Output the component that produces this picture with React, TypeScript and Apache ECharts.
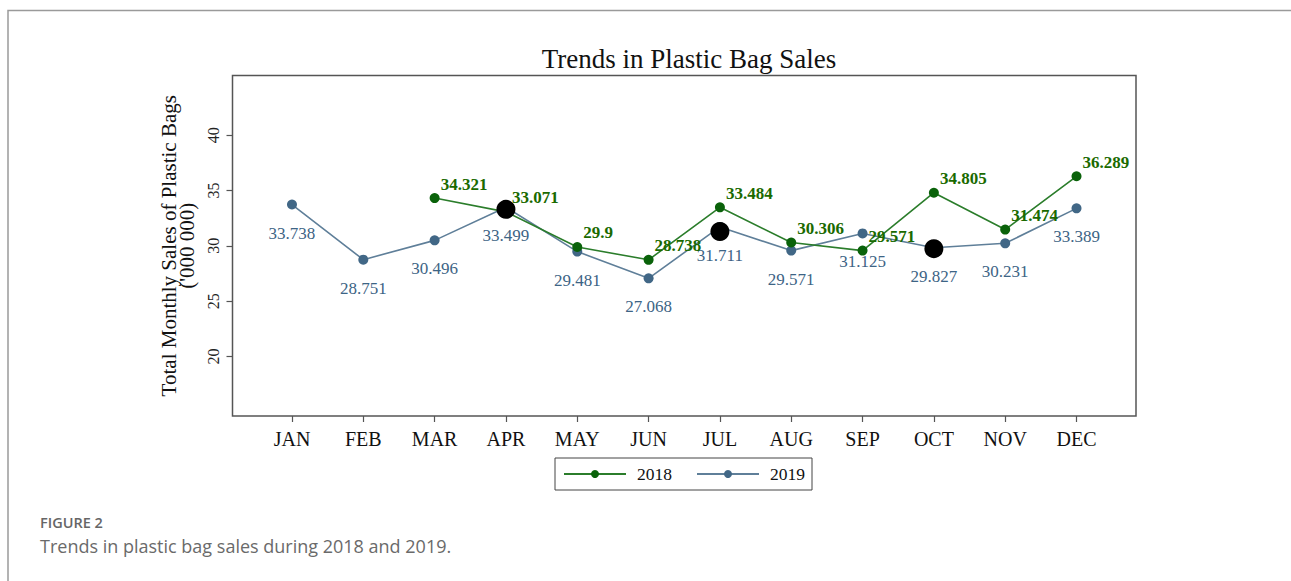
import React, { useEffect, useRef } from "react";
import * as echarts from "echarts";

const months = ["JAN", "FEB", "MAR", "APR", "MAY", "JUN", "JUL", "AUG", "SEP", "OCT", "NOV", "DEC"];
const sales2018: (number | null)[] = [null, null, 34.321, 33.071, 29.9, 28.738, 33.484, 30.306, 29.571, 34.805, 31.474, 36.289];
const sales2019: number[] = [33.738, 28.751, 30.496, 33.499, 29.481, 27.068, 31.711, 29.571, 31.125, 29.827, 30.231, 33.389];
const highlightMonths = [3, 6, 9];
const highlightValues = [33.3, 31.3, 29.75];
const yTicks = [20, 25, 30, 35, 40];

const SERIF = "'Liberation Serif', 'Times New Roman', serif";

export default function App() {
  const ref = useRef<HTMLDivElement>(null);
  useEffect(() => {
    if (!ref.current) return;
    const chart = echarts.init(ref.current, null, { renderer: "svg" });
    const idx = months.map((_, i) => i);
    const d2018 = sales2018
      .map((v, i) => (v === null ? null : [i, v]))
      .filter((p) => p !== null);
    const d2019 = sales2019.map((v, i) => [i, v]);
    const dHi = highlightMonths.map((m, k) => [m, highlightValues[k]]);
    chart.setOption({
      animation: false,
      backgroundColor: "#fff",
      title: {
        text: "Trends in Plastic Bag Sales",
        left: 684,
        top: 40,
        textAlign: "center",
        textStyle: { fontFamily: SERIF, fontSize: 27, fontWeight: "normal", color: "#111" },
      },
      grid: {
        left: 232.5,
        top: 75.5,
        right: 155,
        bottom: 165,
        show: true,
        borderColor: "#555",
        borderWidth: 1.5,
        backgroundColor: "#fff",
      },
      legend: {
        data: ["2018", "2019"],
        left: 555,
        top: 458,
        orient: "horizontal",
        borderColor: "#444",
        borderWidth: 1,
        padding: [7, 7, 7, 8],
        itemWidth: 62,
        itemHeight: 10,
        itemGap: 24,
        textStyle: { fontFamily: SERIF, fontSize: 17.5, color: "#111", padding: [0, 0, 0, 6] },
      },
      xAxis: {
        type: "value",
        min: -0.834,
        max: 11.834,
        splitLine: { show: false },
        axisLine: { show: false, onZero: false },
        axisTick: { show: true, length: 6, inside: false, customValues: idx, lineStyle: { color: "#555", width: 1.2 } },
        axisLabel: {
          customValues: idx,
          formatter: (v: number) => months[Math.round(v)] ?? "",
          fontFamily: SERIF,
          fontSize: 20,
          color: "#111",
          margin: 13,
        },
      },
      yAxis: {
        type: "value",
        min: 14.62,
        max: 45.4,
        name: "Total Monthly Sales of Plastic Bags\n('000 000)",
        nameLocation: "middle",
        nameRotate: 90,
        nameGap: 32,
        nameTextStyle: { fontFamily: SERIF, fontSize: 21, color: "#111", lineHeight: 18 },
        splitLine: { show: false },
        axisLine: { show: false, onZero: false },
        axisTick: { show: true, length: 6, customValues: yTicks, lineStyle: { color: "#555", width: 1.2 } },
        axisLabel: {
          customValues: yTicks,
          rotate: 90,
          fontFamily: SERIF,
          fontSize: 16,
          color: "#222",
          margin: 11,
        },
      },
      series: [
        {
          name: "2018",
          type: "line",
          data: d2018,
          symbol: "circle",
          symbolSize: 10,
          lineStyle: { color: "#2b7d2b", width: 1.6 },
          itemStyle: { color: "#0a620a" },
          label: {
            show: true,
            position: "right",
            distance: 1,
            offset: [0, -14],
            formatter: (p: any) => String(p.value[1]),
            fontFamily: SERIF,
            fontSize: 17,
            color: "#1a6a00",
            fontWeight: "bold",
          },
          z: 3,
        },
        {
          name: "2019",
          type: "line",
          data: d2019,
          symbol: "circle",
          symbolSize: 10,
          lineStyle: { color: "#5f7f99", width: 1.6 },
          itemStyle: { color: "#416786" },
          label: {
            show: true,
            position: "bottom",
            distance: 15,
            formatter: (p: any) => String(p.value[1]),
            fontFamily: SERIF,
            fontSize: 17,
            color: "#3d6485",
          },
          z: 2,
        },
        {
          name: "highlight",
          type: "scatter",
          data: dHi,
          symbol: "circle",
          symbolSize: 19,
          itemStyle: { color: "#000", opacity: 1 },
          z: 5,
          silent: true,
        },
      ],
      graphic: [
        {
          type: "polyline",
          shape: { points: [[8, 581], [8, 10.5], [1291, 10.5]] },
          style: { stroke: "#9a9a9a", lineWidth: 1.5, fill: "none" },
          silent: true,
        },
        {
          type: "text",
          left: 40,
          top: 515,
          style: {
            text: "FIGURE 2",
            font: "600 14.5px 'Open Sans', 'Noto Sans', sans-serif",
            fill: "#666",
          },
        },
        {
          type: "text",
          left: 40,
          top: 537,
          style: {
            text: "Trends in plastic bag sales during 2018 and 2019.",
            font: "18px 'Open Sans', 'Noto Sans', sans-serif",
            fill: "#6a6a6a",
          },
        },
      ],
    });
    return () => chart.dispose();
  }, []);
  return (
    <div
      ref={ref}
      style={{ position: "absolute", left: 0, top: 0, width: 1291, height: 581 }}
    />
  );
}
